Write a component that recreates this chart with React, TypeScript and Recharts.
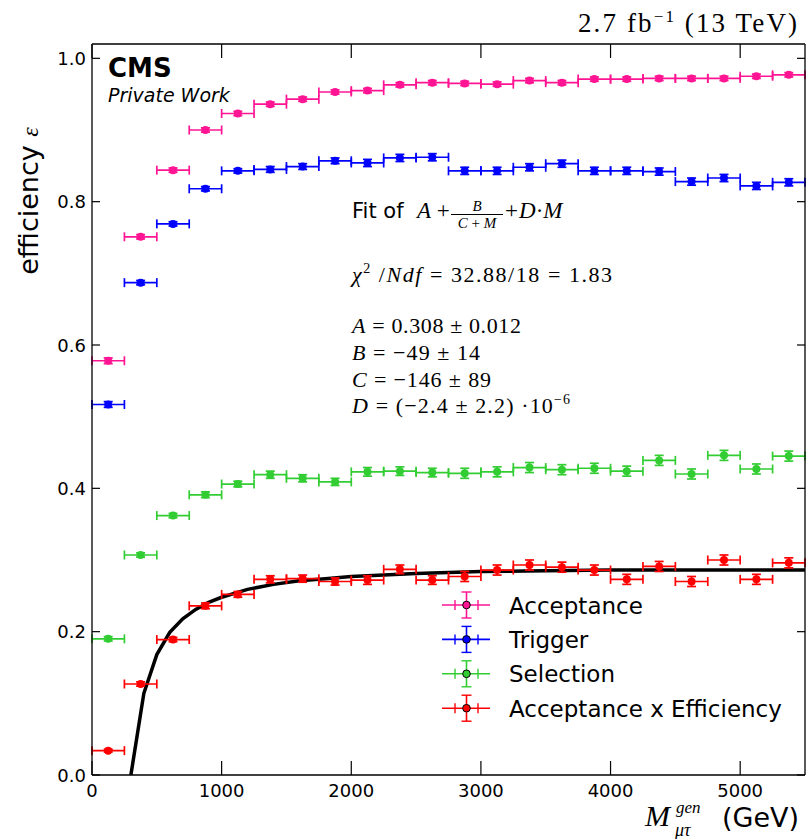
import React from 'react';
import { ComposedChart, Scatter, Line, XAxis, YAxis, ErrorBar } from 'recharts';

// bin centres in GeV, bins are 250 GeV wide
const massBins = [125, 375, 625, 875, 1125, 1375, 1625, 1875, 2125, 2375, 2625, 2875, 3125, 3375, 3625, 3875, 4125, 4375, 4625, 4875, 5125, 5375];
const binHalfWidth = 125;

const acceptance = [0.578, 0.751, 0.844, 0.900, 0.923, 0.936, 0.943, 0.953, 0.955, 0.963, 0.966, 0.965, 0.964, 0.969, 0.966, 0.971, 0.971, 0.972, 0.972, 0.972, 0.975, 0.977];
const acceptanceErr = [0.004, 0.003, 0.003, 0.003, 0.003, 0.003, 0.003, 0.003, 0.003, 0.003, 0.003, 0.003, 0.003, 0.003, 0.003, 0.003, 0.003, 0.003, 0.003, 0.003, 0.003, 0.003];

const trigger = [0.517, 0.687, 0.769, 0.818, 0.843, 0.845, 0.849, 0.857, 0.854, 0.861, 0.862, 0.843, 0.843, 0.848, 0.853, 0.843, 0.843, 0.842, 0.828, 0.833, 0.822, 0.827];
const triggerErr = [0.004, 0.003, 0.003, 0.003, 0.003, 0.004, 0.004, 0.004, 0.005, 0.005, 0.005, 0.005, 0.005, 0.005, 0.005, 0.005, 0.005, 0.005, 0.005, 0.005, 0.005, 0.005];

const selection = [0.190, 0.307, 0.362, 0.391, 0.406, 0.419, 0.414, 0.409, 0.423, 0.424, 0.422, 0.421, 0.423, 0.429, 0.426, 0.428, 0.424, 0.439, 0.420, 0.446, 0.427, 0.445];
const selectionErr = [0.003, 0.003, 0.003, 0.004, 0.004, 0.005, 0.005, 0.005, 0.006, 0.006, 0.006, 0.007, 0.007, 0.007, 0.007, 0.007, 0.007, 0.007, 0.007, 0.007, 0.007, 0.007];

const accTimesEff = [0.034, 0.127, 0.189, 0.236, 0.252, 0.273, 0.274, 0.270, 0.272, 0.287, 0.272, 0.277, 0.286, 0.293, 0.290, 0.286, 0.273, 0.291, 0.270, 0.300, 0.273, 0.296];
const accTimesEffErr = [0.002, 0.003, 0.003, 0.004, 0.004, 0.005, 0.005, 0.005, 0.006, 0.006, 0.006, 0.007, 0.007, 0.007, 0.007, 0.007, 0.007, 0.007, 0.007, 0.007, 0.007, 0.007];

// fitted curve
const fitMass = [300, 400, 500, 600, 700, 800, 900, 1000, 1200, 1400, 1600, 1800, 2000, 2500, 3000, 3500, 4000, 4500, 5000, 5500];
const fitEff = [0.0, 0.114, 0.168, 0.199, 0.218, 0.231, 0.241, 0.248, 0.259, 0.266, 0.271, 0.274, 0.277, 0.281, 0.284, 0.285, 0.286, 0.286, 0.286, 0.286];

const xTicks = [0, 1000, 2000, 3000, 4000, 5000];
const yTicks = [0, 0.2, 0.4, 0.6, 0.8, 1.0];

const SANS = "'DejaVu Sans', sans-serif";
const SERIF = "'Liberation Serif', 'DejaVu Serif', serif";

const SERIES = [
  { name: 'Acceptance', color: '#ff1493', values: acceptance, errors: acceptanceErr },
  { name: 'Trigger', color: '#0000ff', values: trigger, errors: triggerErr },
  { name: 'Selection', color: '#32cd32', values: selection, errors: selectionErr },
  { name: 'Acceptance x Efficiency', color: '#ff0000', values: accTimesEff, errors: accTimesEffErr },
];

const toPoints = (values: number[], errors: number[]) =>
  massBins.map((m, i) => ({ m, eff: values[i], ex: binHalfWidth, ey: errors[i] }));

const fitData = fitMass.map((m, i) => ({ m, eff: fitEff[i] }));

const BottomTick = ({ x, y, payload }: any) => (
  <g>
    <line x1={x} y1={y} x2={x} y2={y - 14} stroke="#000" strokeWidth={1.2} />
    <text x={x} y={y + 22} textAnchor="middle" fontFamily={SANS} fontSize={18} fill="#000">
      {payload.value}
    </text>
  </g>
);

const TopTick = ({ x, y }: any) => (
  <line x1={x} y1={y} x2={x} y2={y + 14} stroke="#000" strokeWidth={1.2} />
);

const LeftTick = ({ x, y, payload }: any) => (
  <g>
    <line x1={x} y1={y} x2={x + 8} y2={y} stroke="#000" strokeWidth={1.2} />
    <text x={x - 6} y={y + 6.5} textAnchor="end" fontFamily={SANS} fontSize={18} fill="#000">
      {Number(payload.value).toFixed(1)}
    </text>
  </g>
);

const RightTick = ({ x, y }: any) => (
  <line x1={x} y1={y} x2={x - 8} y2={y} stroke="#000" strokeWidth={1.2} />
);

const Dot = (color: string) => (props: any) => {
  const { cx, cy } = props;
  if (cx == null || cy == null) return null;
  return <circle cx={cx} cy={cy} r={4} fill={color} />;
};

const Overlay = () => (
  <svg width={807} height={839} style={{ position: 'absolute', left: 0, top: 0, pointerEvents: 'none' }}>
    {/* lumi header */}
    <text x={797} y={32} textAnchor="end" fontFamily={SERIF} fontSize={27} textLength={219} lengthAdjust="spacing" fill="#000">
      2.7 fb<tspan dy={-10} fontSize={17}>−1</tspan>
      <tspan dy={10}> (13 TeV)</tspan>
    </text>

    <text x={108} y={77} fontFamily={SANS} fontSize={26} fontWeight="bold" fill="#000">CMS</text>
    <text x={108} y={102} fontFamily={SANS} fontSize={19} fontStyle="italic" fill="#000">Private Work</text>

    {/* fit annotation */}
    <text x={352} y={218} fontFamily={SANS} fontSize={21} fill="#000">Fit of</text>
    <text x={417} y={218} fontFamily={SERIF} fontSize={23} fill="#000">
      <tspan fontStyle="italic">A</tspan> +
    </text>
    <text x={477} y={211} textAnchor="middle" fontFamily={SERIF} fontSize={15} fontStyle="italic" fill="#000">B</text>
    <line x1={451} y1={214.5} x2={503} y2={214.5} stroke="#000" strokeWidth={1} />
    <text x={477} y={228} textAnchor="middle" fontFamily={SERIF} fontSize={15} fill="#000">
      <tspan fontStyle="italic">C</tspan> + <tspan fontStyle="italic">M</tspan>
    </text>
    <text x={505} y={218} fontFamily={SERIF} fontSize={23} fill="#000">+</text>
    <text x={519} y={218} fontFamily={SERIF} fontSize={23} fill="#000">
      <tspan fontStyle="italic">D</tspan>·<tspan fontStyle="italic">M</tspan>
    </text>

    <text x={352} y={282} fontFamily={SERIF} fontSize={22} textLength={260} lengthAdjust="spacing" fill="#000">
      <tspan fontStyle="italic">χ</tspan>
      <tspan dy={-9} fontSize={14}>2</tspan>
      <tspan dy={9}> /</tspan>
      <tspan fontStyle="italic">Ndf</tspan> = 32.88/18 = 1.83
    </text>

    <text x={352} y={333} fontFamily={SERIF} fontSize={22} textLength={169} lengthAdjust="spacing" fill="#000">
      <tspan fontStyle="italic">A</tspan> = 0.308 ± 0.012
    </text>
    <text x={352} y={360} fontFamily={SERIF} fontSize={22} textLength={128} lengthAdjust="spacing" fill="#000">
      <tspan fontStyle="italic">B</tspan> = −49 ± 14
    </text>
    <text x={352} y={387} fontFamily={SERIF} fontSize={22} textLength={139} lengthAdjust="spacing" fill="#000">
      <tspan fontStyle="italic">C</tspan> = −146 ± 89
    </text>
    <text x={352} y={413} fontFamily={SERIF} fontSize={22} textLength={218} lengthAdjust="spacing" fill="#000">
      <tspan fontStyle="italic">D</tspan> = (−2.4 ± 2.2) ·10
      <tspan dy={-9} fontSize={14}>−6</tspan>
    </text>

    {/* legend */}
    {SERIES.map((s, i) => {
      const cy = 605 + i * 34.4;
      return (
        <g key={s.name}>
          <line x1={442} y1={cy} x2={490} y2={cy} stroke={s.color} strokeWidth={1.6} />
          <line x1={455} y1={cy - 5} x2={455} y2={cy + 5} stroke={s.color} strokeWidth={1.4} />
          <line x1={478} y1={cy - 5} x2={478} y2={cy + 5} stroke={s.color} strokeWidth={1.4} />
          <line x1={466.5} y1={cy - 13} x2={466.5} y2={cy + 13} stroke={s.color} strokeWidth={1.6} />
          <line x1={461.5} y1={cy - 13} x2={471.5} y2={cy - 13} stroke={s.color} strokeWidth={1.4} />
          <line x1={461.5} y1={cy + 13} x2={471.5} y2={cy + 13} stroke={s.color} strokeWidth={1.4} />
          <circle cx={466.5} cy={cy} r={3.8} fill={s.color} stroke="#000" strokeWidth={1} />
          <text x={509} y={cy + 8.5} fontFamily={SANS} fontSize={23} fill="#000">{s.name}</text>
        </g>
      );
    })}

    {/* axis titles */}
    <text transform="translate(38, 201) rotate(-90)" textAnchor="middle" fontFamily={SANS} fontSize={27} fill="#000">
      efficiency <tspan fontFamily={SERIF} fontStyle="italic" fontSize={24}>ε</tspan>
    </text>
    <text x={645} y={826} fontFamily={SERIF} fontSize={30} fontStyle="italic" fill="#000">M</text>
    <text x={676} y={813} fontFamily={SERIF} fontSize={17} fontStyle="italic" fill="#000">gen</text>
    <text x={675} y={836} fontFamily={SERIF} fontSize={18} fontStyle="italic" fill="#000">μτ</text>
    <text x={722} y={826.5} fontFamily={SANS} fontSize={27} fill="#000">(GeV)</text>
  </svg>
);

export default function App() {
  return (
    <div style={{ position: 'absolute', left: 0, top: 0, width: 807, height: 839, background: '#fff' }}>
      <ComposedChart width={807} height={839} margin={{ top: 43, right: 1, bottom: 63, left: 91 }}>
        <XAxis
          xAxisId={0}
          dataKey="m"
          type="number"
          domain={[0, 5500]}
          ticks={xTicks}
          interval={0}
          allowDataOverflow
          height={1}
          tickSize={0}
          tickMargin={0}
          tick={<BottomTick />}
          tickLine={false}
          axisLine={{ stroke: '#000', strokeWidth: 1.3 }}
        />
        <XAxis
          xAxisId="top"
          orientation="top"
          dataKey="m"
          type="number"
          domain={[0, 5500]}
          ticks={xTicks}
          interval={0}
          allowDataOverflow
          height={1}
          tickSize={0}
          tickMargin={0}
          tick={<TopTick />}
          tickLine={false}
          axisLine={{ stroke: '#000', strokeWidth: 1.3 }}
        />
        <YAxis
          yAxisId={0}
          dataKey="eff"
          type="number"
          domain={[0, 1.02]}
          ticks={yTicks}
          interval={0}
          allowDataOverflow
          width={1}
          tickSize={0}
          tickMargin={0}
          tick={<LeftTick />}
          tickLine={false}
          axisLine={{ stroke: '#000', strokeWidth: 1.3 }}
        />
        <YAxis
          yAxisId="right"
          orientation="right"
          dataKey="eff"
          type="number"
          domain={[0, 1.02]}
          ticks={yTicks}
          interval={0}
          allowDataOverflow
          width={1}
          tickSize={0}
          tickMargin={0}
          tick={<RightTick />}
          tickLine={false}
          axisLine={{ stroke: '#000', strokeWidth: 1.3 }}
        />
        {SERIES.slice(0, 3).map((s) => (
          <Scatter
            key={s.name}
            name={s.name}
            data={toPoints(s.values, s.errors)}
            dataKey="eff"
            fill={s.color}
            shape={Dot(s.color)}
            isAnimationActive={false}
          >
            <ErrorBar dataKey="ex" direction="x" width={4.5} stroke={s.color} strokeWidth={1.7} isAnimationActive={false} />
            <ErrorBar dataKey="ey" direction="y" width={4.5} stroke={s.color} strokeWidth={1.7} isAnimationActive={false} />
          </Scatter>
        ))}
        <Line
          data={fitData}
          dataKey="eff"
          type="linear"
          stroke="#000"
          strokeWidth={3.5}
          dot={false}
          activeDot={false}
          isAnimationActive={false}
        />
        <Scatter
          name={SERIES[3].name}
          data={toPoints(SERIES[3].values, SERIES[3].errors)}
          dataKey="eff"
          fill={SERIES[3].color}
          shape={Dot(SERIES[3].color)}
          isAnimationActive={false}
        >
          <ErrorBar dataKey="ex" direction="x" width={4.5} stroke={SERIES[3].color} strokeWidth={1.7} isAnimationActive={false} />
          <ErrorBar dataKey="ey" direction="y" width={4.5} stroke={SERIES[3].color} strokeWidth={1.7} isAnimationActive={false} />
        </Scatter>
      </ComposedChart>
      <Overlay />
    </div>
  );
}
